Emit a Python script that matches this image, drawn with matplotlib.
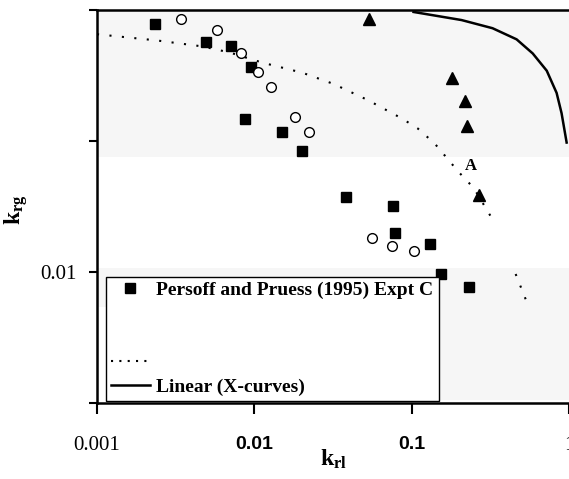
import matplotlib
matplotlib.use("Agg")
import matplotlib.pyplot as plt
from matplotlib.lines import Line2D
from matplotlib.patches import Rectangle
import numpy as np

plt.rcParams['mathtext.fontset'] = 'custom'
plt.rcParams['mathtext.rm'] = 'Liberation Serif'
plt.rcParams['mathtext.bf'] = 'Liberation Serif:bold'
plt.rcParams['mathtext.it'] = 'Liberation Serif:italic'

# ---- data ----
sq_x = [0.00232, 0.00490, 0.00707, 0.00959, 0.00867, 0.0149, 0.0200, 0.0385,
        0.0757, 0.0779, 0.130, 0.153, 0.233]
sq_y = [0.780, 0.566, 0.527, 0.370, 0.1466, 0.118, 0.0845, 0.0373,
        0.0318, 0.0200, 0.01644, 0.00965, 0.00766]

circ_x = [0.00340, 0.00575, 0.00817, 0.01048, 0.01268, 0.01804, 0.0221,
          0.0556, 0.0745, 0.1028]
circ_y = [0.853, 0.702, 0.466, 0.338, 0.259, 0.152, 0.118,
          0.0183, 0.0159, 0.01452]

tri_x = [0.0532, 0.1795, 0.217, 0.2235, 0.266]
tri_y = [0.853, 0.304, 0.202, 0.1294, 0.0387]

lin_x = [0.1028, 0.2075, 0.3266, 0.4645, 0.588, 0.722, 0.834, 0.897, 0.966]
lin_y = [0.966, 0.838, 0.726, 0.597, 0.466, 0.344, 0.233, 0.163, 0.0973]

dot_x = [0.001, 0.00239, 0.00469, 0.00696, 0.01128, 0.0202, 0.0318, 0.0525,
         0.0863, 0.109, 0.140, 0.1986, 0.248, 0.318, np.nan, 0.458, 0.553]
dot_y = [0.653, 0.586, 0.527, 0.474, 0.396, 0.332, 0.273, 0.2056,
         0.149, 0.125, 0.0957, 0.0581, 0.0438, 0.0266, np.nan, 0.00965, 0.00546]

xticks = [0.001, 0.01, 0.1, 1]
xticklabels = ['0.001', '0.01', '0.1', '1']
yticks = [0.001, 0.01, 0.1, 1]
yticklabels = ['', '0.01', '', '']

legend_sq = 'Persoff and Pruess (1995) Expt C'
legend_lin = 'Linear (X-curves)'

# ---- figure ----
fig = plt.figure(figsize=(5.69, 4.79), dpi=100)
L, R, B, T = 97 / 569, 1.0, 1 - 403 / 479, 1 - 10 / 479
ax = fig.add_axes([L, B, R - L, T - B])
ax.set_xscale('log')
ax.set_yscale('log')
ax.set_xlim(0.001, 1)
ax.set_ylim(0.001, 1)

# scan-like light grey patches
g = '#f6f6f6'
ax.add_patch(Rectangle((0, 0.626), 1, 0.374, transform=ax.transAxes, color=g, zorder=0, lw=0))
ax.add_patch(Rectangle((0, 0.244), 1, 0.0995, transform=ax.transAxes, color=g, zorder=0, lw=0))
ax.add_patch(Rectangle((0.727, 0.0076), 0.273, 0.336, transform=ax.transAxes, color=g, zorder=0, lw=0))

ax.plot(dot_x, dot_y, color='black', lw=1.5, linestyle=(0, (1, 5)), zorder=2)
ax.plot(lin_x, lin_y, color='black', lw=1.8, zorder=2)
ax.plot(sq_x, sq_y, linestyle='none', marker='s', ms=7.5, color='black', zorder=3)
ax.plot(circ_x, circ_y, linestyle='none', marker='o', ms=7, mfc='white', mec='black', mew=1.0, zorder=3)
ax.plot(tri_x, tri_y, linestyle='none', marker='^', ms=8.5, color='black', zorder=3)

ax.text(0.2366, 0.0647, 'A', fontfamily='Liberation Serif', fontweight='bold', fontsize=12,
        ha='center', va='center', zorder=4)

# ticks
ax.set_xticks(xticks, labels=xticklabels)
ax.set_yticks(yticks, labels=yticklabels)
ax.xaxis.set_minor_locator(matplotlib.ticker.NullLocator())
ax.yaxis.set_minor_locator(matplotlib.ticker.NullLocator())
ax.tick_params(axis='x', direction='out', length=8, width=1.5, pad=16)
ax.tick_params(axis='y', direction='out', length=6, width=1.5, pad=9)
for i, lab in enumerate(ax.get_xticklabels()):
    if i in (1, 2):
        lab.set_fontfamily('Liberation Sans')
        lab.set_fontweight('bold')
        lab.set_fontsize(14)
    else:
        lab.set_fontfamily('Liberation Serif')
        lab.set_fontsize(15)
for lab in ax.get_yticklabels():
    lab.set_fontfamily('Liberation Serif')
    lab.set_fontsize(15)

for s in ['left', 'bottom', 'top']:
    ax.spines[s].set_linewidth(1.8)
ax.spines['right'].set_visible(False)

ax.set_xlabel(r'$\mathbf{k_{rl}}$', fontsize=17)
ax.set_ylabel(r'$\mathbf{k_{rg}}$', fontsize=17)
ax.xaxis.set_label_coords(0.5, -0.112)
ax.yaxis.set_label_coords(-0.142, 0.491)

handles = [
    Line2D([], [], linestyle='none', marker='s', ms=7.5, color='black'),
    Line2D([], [], linestyle='none'),
    Line2D([], [], linestyle='none'),
    Line2D([], [], color='black', lw=1.5, linestyle=(0, (1, 3))),
    Line2D([], [], color='black', lw=1.8),
]
labels = [legend_sq, '', '', '', legend_lin]
leg = ax.legend(handles, labels, loc='lower left',
                bbox_to_anchor=(0.019, 0.005, 0.706, 0.316), mode='expand',
                prop={'family': 'Liberation Serif', 'weight': 'bold', 'size': 14},
                fancybox=False, frameon=True, edgecolor='black', framealpha=1,
                borderpad=0.25, labelspacing=0.34, handlelength=2.0,
                handletextpad=0.3, borderaxespad=0)
leg.get_frame().set_linewidth(1.0)
leg.set_zorder(5)

fig.savefig('out.png', dpi=100)
